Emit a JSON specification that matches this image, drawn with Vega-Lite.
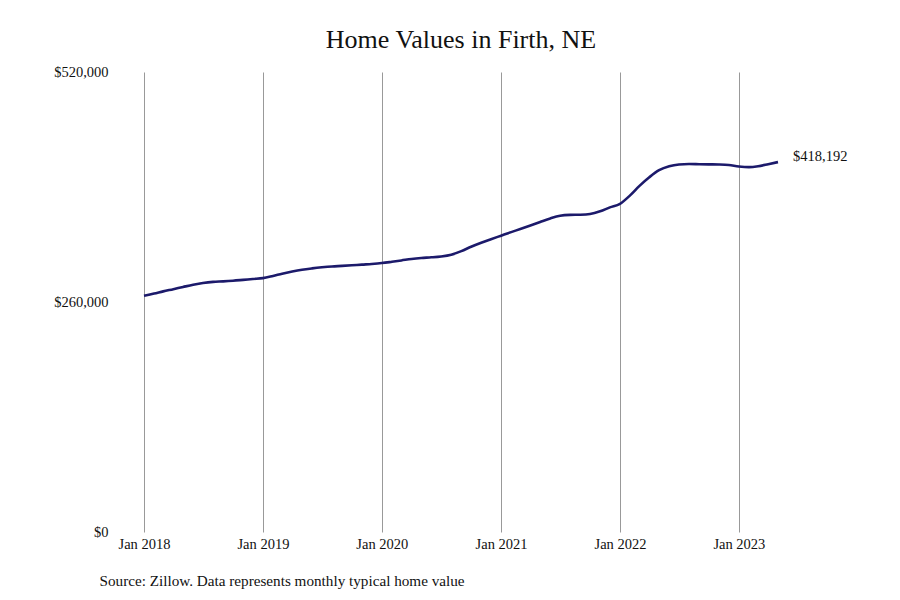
{
  "$schema": "https://vega.github.io/schema/vega-lite/v6.json",
  "width": 634,
  "height": 460,
  "autosize": "none",
  "padding": {"left": 144, "top": 72, "right": 122, "bottom": 68},
  "background": "white",
  "view": {"stroke": null},
  "title": {
    "text": "Home Values in Firth, NE",
    "font": "Liberation Serif",
    "fontSize": 26,
    "fontWeight": "normal",
    "color": "#111111",
    "anchor": "middle",
    "offset": 11
  },
  "data": {
    "values": [
      {"date": "2018-01-01", "value": 267000},
      {"date": "2018-02-01", "value": 269500},
      {"date": "2018-03-01", "value": 272000},
      {"date": "2018-04-01", "value": 274500},
      {"date": "2018-05-01", "value": 277000},
      {"date": "2018-06-01", "value": 279500},
      {"date": "2018-07-01", "value": 281500},
      {"date": "2018-08-01", "value": 282800},
      {"date": "2018-09-01", "value": 283300},
      {"date": "2018-10-01", "value": 284000},
      {"date": "2018-11-01", "value": 285000},
      {"date": "2018-12-01", "value": 286000},
      {"date": "2019-01-01", "value": 287000},
      {"date": "2019-02-01", "value": 289500},
      {"date": "2019-03-01", "value": 292000},
      {"date": "2019-04-01", "value": 294500},
      {"date": "2019-05-01", "value": 296500},
      {"date": "2019-06-01", "value": 298000},
      {"date": "2019-07-01", "value": 299200},
      {"date": "2019-08-01", "value": 300200},
      {"date": "2019-09-01", "value": 300800},
      {"date": "2019-10-01", "value": 301500},
      {"date": "2019-11-01", "value": 302300},
      {"date": "2019-12-01", "value": 303000},
      {"date": "2020-01-01", "value": 304000},
      {"date": "2020-02-01", "value": 305500},
      {"date": "2020-03-01", "value": 307000},
      {"date": "2020-04-01", "value": 308700},
      {"date": "2020-05-01", "value": 309800},
      {"date": "2020-06-01", "value": 310500},
      {"date": "2020-07-01", "value": 311500},
      {"date": "2020-08-01", "value": 313500},
      {"date": "2020-09-01", "value": 317500},
      {"date": "2020-10-01", "value": 322500},
      {"date": "2020-11-01", "value": 327000},
      {"date": "2020-12-01", "value": 331000},
      {"date": "2021-01-01", "value": 335000},
      {"date": "2021-02-01", "value": 339000},
      {"date": "2021-03-01", "value": 342500},
      {"date": "2021-04-01", "value": 346500},
      {"date": "2021-05-01", "value": 350500},
      {"date": "2021-06-01", "value": 354500},
      {"date": "2021-07-01", "value": 357500},
      {"date": "2021-08-01", "value": 358500},
      {"date": "2021-09-01", "value": 358700},
      {"date": "2021-10-01", "value": 359500},
      {"date": "2021-11-01", "value": 362500},
      {"date": "2021-12-01", "value": 367000},
      {"date": "2022-01-01", "value": 371000},
      {"date": "2022-02-01", "value": 380500},
      {"date": "2022-03-01", "value": 391000},
      {"date": "2022-04-01", "value": 401000},
      {"date": "2022-05-01", "value": 409000},
      {"date": "2022-06-01", "value": 413500},
      {"date": "2022-07-01", "value": 415500},
      {"date": "2022-08-01", "value": 416000},
      {"date": "2022-09-01", "value": 415800},
      {"date": "2022-10-01", "value": 415600},
      {"date": "2022-11-01", "value": 415400},
      {"date": "2022-12-01", "value": 414800},
      {"date": "2023-01-01", "value": 413200},
      {"date": "2023-02-01", "value": 412500},
      {"date": "2023-03-01", "value": 413500},
      {"date": "2023-04-01", "value": 415800},
      {"date": "2023-05-01", "value": 418192}
    ]
  },
  "encoding": {
    "x": {
      "field": "date",
      "type": "temporal",
      "scale": {
        "type": "utc",
        "domain": [
          {"year": 2018, "month": 1, "date": 1, "utc": true},
          {"year": 2023, "month": 5, "date": 1, "utc": true}
        ]
      },
      "axis": {
        "title": "Source: Zillow. Data represents monthly typical home value",
        "titleFont": "Liberation Serif",
        "titleFontSize": 15.2,
        "titleFontWeight": "normal",
        "titleColor": "#111111",
        "titleAnchor": "start",
        "titleAlign": "left",
        "titleX": -45,
        "titleY": 48,
        "titleBaseline": "middle",
        "values": [
          {"year": 2018, "month": 1, "date": 1, "utc": true},
          {"year": 2019, "month": 1, "date": 1, "utc": true},
          {"year": 2020, "month": 1, "date": 1, "utc": true},
          {"year": 2021, "month": 1, "date": 1, "utc": true},
          {"year": 2022, "month": 1, "date": 1, "utc": true},
          {"year": 2023, "month": 1, "date": 1, "utc": true}
        ],
        "format": "%b %Y",
        "labelFont": "Liberation Serif",
        "labelFontSize": 14.5,
        "labelColor": "#111111",
        "labelPadding": 5,
        "labelFlush": false,
        "domain": false,
        "ticks": false,
        "grid": true,
        "gridColor": "#999999",
        "gridWidth": 1
      }
    },
    "y": {
      "field": "value",
      "type": "quantitative",
      "scale": {"domain": [0, 520000], "nice": false},
      "axis": {
        "title": null,
        "values": [0, 260000, 520000],
        "format": "$,.0f",
        "labelFont": "Liberation Serif",
        "labelFontSize": 14.5,
        "labelColor": "#111111",
        "labelPadding": 36,
        "domain": false,
        "ticks": false,
        "grid": false
      }
    }
  },
  "layer": [
    {
      "mark": {"type": "line", "color": "#1c1a6b", "strokeWidth": 2.6, "interpolate": "monotone"}
    },
    {
      "transform": [{"filter": "datum.value == 418192"}],
      "mark": {
        "type": "text",
        "align": "left",
        "baseline": "middle",
        "dx": 15,
        "dy": -5,
        "font": "Liberation Serif",
        "fontSize": 14.5,
        "color": "#111111"
      },
      "encoding": {
        "text": {"field": "value", "type": "quantitative", "format": "$,.0f"}
      }
    }
  ]
}
